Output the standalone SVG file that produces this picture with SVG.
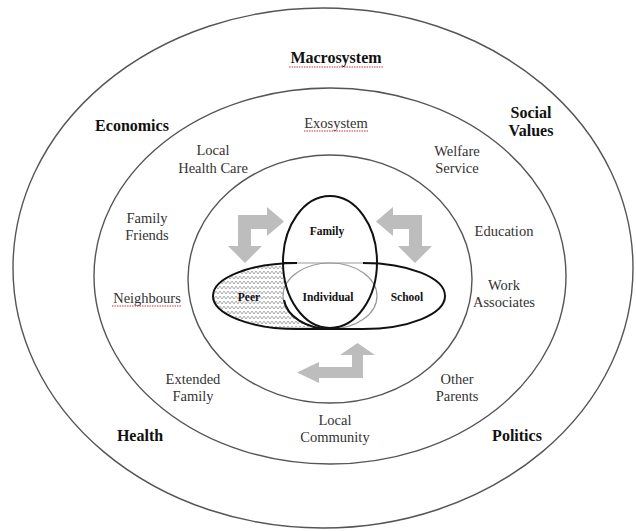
<svg xmlns="http://www.w3.org/2000/svg" width="636" height="531" viewBox="0 0 636 531">
<style>
.ring{fill:none;stroke:#555;stroke-width:1.4}
.arrow{fill:#bdbdbd;stroke:none}
.squig{fill:none;stroke:#e03030;stroke-width:1;stroke-dasharray:1.5 1}
.blk{fill:none;stroke:#111;stroke-width:2}
.gry{fill:none;stroke:#999;stroke-width:1.2}
</style>
<defs>
<pattern id="hatch" width="4" height="5" patternUnits="userSpaceOnUse">
<path d="M0,1 L2,4 L4,1" fill="none" stroke="#888" stroke-width="0.7"/>
</pattern>
</defs>
<rect width="636" height="531" fill="#fff"/>
<g id="macrosystem">
<ellipse class="ring" cx="323" cy="268" rx="310" ry="260"/>
<g font-family="Liberation Serif" font-size="16" font-weight="bold" fill="#111" text-anchor="middle">
<text x="336" y="63">Macrosystem</text>
<text x="132" y="131">Economics</text>
<text x="531" y="118">Social</text>
<text x="531" y="136">Values</text>
<text x="140" y="441">Health</text>
<text x="517" y="441">Politics</text>
</g>
<path class="squig" d="M289,67 L383,67"/>
</g>
<g id="exosystem">
<ellipse class="ring" cx="330" cy="276" rx="236" ry="188"/>
<g font-family="Liberation Serif" font-size="14.5" fill="#333" text-anchor="middle">
<text x="336" y="128">Exosystem</text>
<text x="213" y="155">Local</text>
<text x="213" y="173">Health Care</text>
<text x="457" y="156">Welfare</text>
<text x="457" y="173">Service</text>
<text x="147" y="223">Family</text>
<text x="147" y="240">Friends</text>
<text x="504" y="236">Education</text>
<text x="147" y="303">Neighbours</text>
<text x="504" y="290">Work</text>
<text x="504" y="307">Associates</text>
<text x="193" y="384">Extended</text>
<text x="193" y="401">Family</text>
<text x="457" y="384">Other</text>
<text x="457" y="401">Parents</text>
<text x="335" y="425">Local</text>
<text x="335" y="442">Community</text>
</g>
<path class="squig" d="M304,131 L368,131"/>
<path class="squig" d="M112,306 L182,306"/>
</g>
<g id="microsystem">
<ellipse class="ring" cx="330" cy="279" rx="142" ry="124"/>
</g>
<g id="connectors">
<polygon class="arrow" points="238,215 267,215 267,207 284,221.5 267,236 267,229 251,229 251,246 262,246 245,263 228,246 238,246"/>
<polygon class="arrow" points="422,215 393,215 393,207 376,221.5 393,236 393,229 409,229 409,246 398,246 415,263 432,246 422,246"/>
<polygon class="arrow" points="297,372.5 319,362 319,367 352,367 352,355 340,355 357.5,343 375,355 363,355 363,378 319,378 319,383"/>
</g>
<g id="peer">
<path d="M297,263 A84,33 0 0 0 297,329 L330,329 L330,263 Z" fill="url(#hatch)"/>
</g>
<g id="family">
<ellipse cx="330" cy="262" rx="47" ry="66" fill="#fff"/>
</g>
<g id="individual">
<ellipse cx="330" cy="296" rx="47" ry="33" fill="#fff"/>
<line class="gry" x1="283" y1="263" x2="377" y2="263"/>
<ellipse class="gry" cx="330" cy="296" rx="47" ry="33"/>
<path class="blk" d="M284,300 A47,33 0 0 0 330,329"/>
</g>
<g id="peer-outline">
<path class="blk" d="M283,263 L297,263 M297,329 L330,329"/>
<path class="blk" d="M297,263 A84,33 0 0 0 297,329"/>
</g>
<g id="school">
<path class="blk" d="M363,263 A82,33 0 0 1 363,329 L330,329"/>
</g>
<g id="family-outline">
<ellipse class="blk" cx="330" cy="262" rx="47" ry="66"/>
</g>
<g font-family="Liberation Serif" font-size="11.5" font-weight="bold" fill="#111" text-anchor="middle">
<text x="327" y="235">Family</text>
<text x="249" y="301">Peer</text>
<text x="328" y="301">Individual</text>
<text x="407" y="301">School</text>
</g>
</svg>
